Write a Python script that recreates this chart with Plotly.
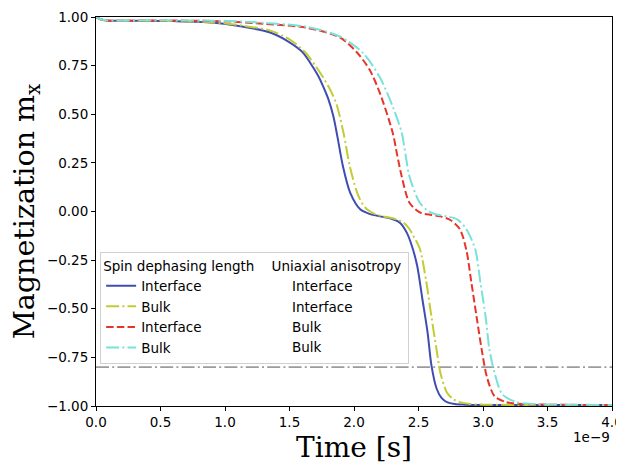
import plotly.graph_objects as go

# ---- data (time in ns; axis offset 1e-9) ----
t_int_int = [0, 0.03, 0.08, 0.3, 0.6, 0.9, 1.12, 1.35, 1.5, 1.6, 1.66, 1.72, 1.76, 1.80, 1.84, 1.87, 1.915, 1.97,
             2.05, 2.12, 2.2, 2.28, 2.36, 2.41, 2.45, 2.49, 2.53, 2.57, 2.60, 2.64, 2.68, 2.72, 2.78, 2.86, 3.0, 3.5, 4.0]
m_int_int = [1.0, 0.99, 0.982, 0.981, 0.979, 0.972, 0.953, 0.92, 0.87, 0.82, 0.765, 0.70, 0.645, 0.58, 0.49, 0.39, 0.23, 0.097,
             0.01, -0.012, -0.025, -0.035, -0.06, -0.11, -0.18, -0.28, -0.45, -0.62, -0.79, -0.91, -0.96, -0.98, -0.99, -0.993, -0.995, -0.995, -0.995]

t_bulk_int = [0, 0.03, 0.08, 0.3, 0.6, 0.9, 1.12, 1.35, 1.5, 1.62, 1.7, 1.76, 1.82, 1.865, 1.92, 1.965, 2.02, 2.06, 2.1,
              2.16, 2.22, 2.3, 2.38, 2.43, 2.46, 2.51, 2.56, 2.60, 2.64, 2.67, 2.72, 2.77, 2.82, 2.9, 3.0, 3.5, 4.0]
m_bulk_int = [1.0, 0.99, 0.982, 0.981, 0.979, 0.973, 0.957, 0.93, 0.885, 0.82, 0.75, 0.69, 0.62, 0.55, 0.40, 0.24, 0.105, 0.045, 0.012,
              -0.012, -0.025, -0.035, -0.055, -0.09, -0.125, -0.19, -0.36, -0.54, -0.71, -0.83, -0.93, -0.965, -0.98, -0.99, -0.993, -0.995, -0.995]

t_int_bulk = [0, 0.03, 0.08, 0.5, 1.0, 1.3, 1.63, 1.89, 2.02, 2.12, 2.2, 2.30, 2.335, 2.37, 2.43, 2.51, 2.6, 2.67,
              2.75, 2.82, 2.87, 2.91, 2.95, 2.99, 3.03, 3.09, 3.18, 3.3, 3.5, 4.0]
m_int_bulk = [1.0, 0.99, 0.982, 0.982, 0.978, 0.965, 0.945, 0.895, 0.82, 0.73, 0.61, 0.405, 0.29, 0.18, 0.045, -0.005, -0.018, -0.025,
              -0.045, -0.09, -0.195, -0.365, -0.54, -0.71, -0.85, -0.95, -0.98, -0.99, -0.993, -0.995]

t_bulk_bulk = [0, 0.03, 0.08, 0.5, 1.0, 1.3, 1.63, 1.89, 2.07, 2.2, 2.30, 2.37, 2.40, 2.43, 2.51, 2.58, 2.64, 2.72, 2.80,
               2.87, 2.94, 2.98, 3.02, 3.05, 3.09, 3.15, 3.26, 3.4, 3.6, 4.0]
m_bulk_bulk = [1.0, 0.99, 0.983, 0.983, 0.98, 0.97, 0.95, 0.90, 0.815, 0.69, 0.54, 0.405, 0.29, 0.18, 0.045, 0.0, -0.015, -0.025, -0.04,
               -0.09, -0.195, -0.365, -0.54, -0.71, -0.83, -0.94, -0.98, -0.99, -0.993, -0.995]

spin_dephasing = ["Interface", "Bulk", "Interface", "Bulk"]
uniaxial_anis = ["Interface", "Interface", "Bulk", "Bulk"]
threshold = -0.8

x_ticks = [0.0, 0.5, 1.0, 1.5, 2.0, 2.5, 3.0, 3.5, 4.0]
y_ticks = [-1.0, -0.75, -0.5, -0.25, 0.0, 0.25, 0.5, 0.75, 1.0]

DASHDOT = "13px,3.2px,2px,3.2px"
series = [
    (t_int_int, m_int_int, "#3f4db3", "solid"),
    (t_bulk_int, m_bulk_int, "#c2cc33", DASHDOT),
    (t_int_bulk, m_int_bulk, "#e8352b", "7.5px,3.2px"),
    (t_bulk_bulk, m_bulk_bulk, "#79e2d8", DASHDOT),
]

fig = go.Figure()
for i, ((t, m, c, d), name) in enumerate(zip(series, spin_dephasing)):
    fig.add_trace(go.Scatter(x=t, y=m, mode="lines", name=name, legendgroup=f"g{i}",
                             line=dict(color=c, width=2, dash=d, shape="spline", smoothing=0.8)))

fig.add_shape(type="line", xref="paper", x0=0, x1=1, yref="y", y0=threshold, y1=threshold,
              line=dict(color="#9c9c9c", width=1.8, dash=DASHDOT), layer="below")

FS = 13.5
tick_font = dict(family="DejaVu Sans", size=FS, color="black")
fig.update_layout(
    width=616, height=456,
    margin=dict(l=88, r=12, t=9, b=58, autoexpand=False),
    paper_bgcolor="white", plot_bgcolor="white",
    showlegend=True,
    legend=dict(x=0.008, y=0.396, xanchor="left", yanchor="top",
                bgcolor="rgba(255,255,255,0.85)", bordercolor="#d0d0d0", borderwidth=1,
                font=dict(family="DejaVu Sans", size=FS, color="black"),
                title=dict(text="Spin dephasing length\u00a0\u00a0\u00a0 Uniaxial anisotropy\u00a0",
                           font=dict(family="DejaVu Sans", size=FS, color="black")),
                tracegroupgap=0, itemwidth=30),
    xaxis=dict(range=[0, 4], tickvals=x_ticks, ticktext=[f"{v:.1f}" for v in x_ticks],
               showgrid=False, zeroline=False, showline=True, linecolor="black", linewidth=1,
               mirror=True, ticks="outside", ticklen=4, tickcolor="black", tickfont=tick_font,
               automargin=False,
               title=dict(text="Time [s]", font=dict(family="DejaVu Serif", size=28, color="black"), standoff=9)),
    yaxis=dict(range=[-1, 1], tickvals=y_ticks, ticktext=[f"{v:.2f}".replace("-", "\u2212") for v in y_ticks],
               showgrid=False, zeroline=False, showline=True, linecolor="black", linewidth=1,
               mirror=True, ticks="outside", ticklen=4, tickcolor="black", tickfont=tick_font,
               automargin=False,
               title=dict(text="Magnetization m<sub>x</sub>", font=dict(family="DejaVu Serif", size=28.5, color="black"), standoff=23)),
)

row_y = [0.3085, 0.2545, 0.203, 0.1517]
for ry, txt in zip(row_y, uniaxial_anis):
    fig.add_annotation(x=0.3765, y=ry, xref="paper", yref="paper", text=txt, showarrow=False,
                       xanchor="left", yanchor="middle", font=dict(family="DejaVu Sans", size=FS, color="black"))

fig.add_annotation(x=1, y=-0.08, xref="paper", yref="paper", text="1e\u22129", showarrow=False,
                   xanchor="right", yanchor="middle", font=dict(family="DejaVu Sans", size=FS, color="black"))

fig.write_html("out.html")
